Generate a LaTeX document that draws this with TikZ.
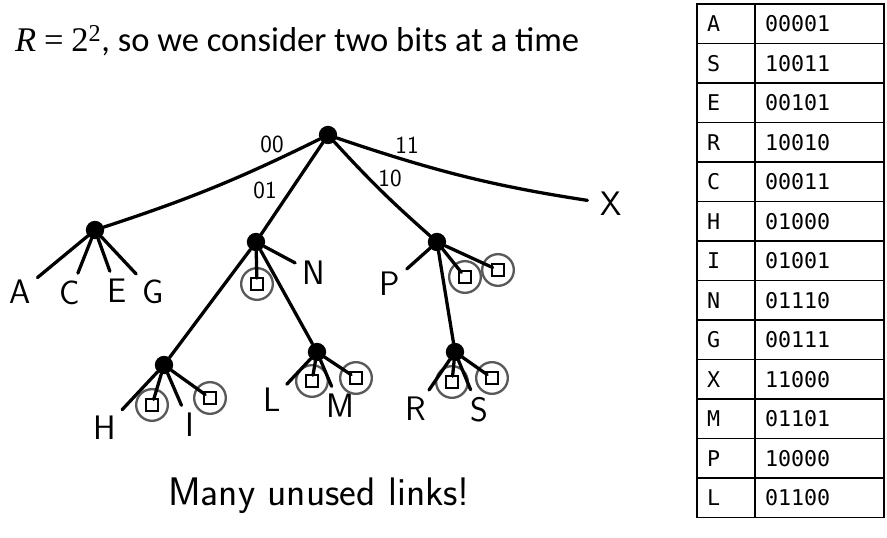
\documentclass[tikz,border=0pt]{standalone}
\usepackage{fontspec}
\setmainfont{Carlito}
\setmonofont{DejaVu Sans Mono}
\newfontfamily\eqfont{Liberation Serif}
\usetikzlibrary{positioning}

\tikzset{
  edge/.style={line width=2.8pt, line cap=round},
  leafedge/.style={edge, shorten >=6pt},
  dot/.style={circle, fill=black, inner sep=0pt, minimum size=0.55cm},
  leaf/.style={font=\sffamily\fontsize{29}{30}\selectfont, inner sep=1pt},
  bits/.style={font=\sffamily\fontsize{21}{22}\selectfont, inner sep=1pt},
  nil/.style={circle, draw=black!65, line width=2pt, minimum size=0.95cm, inner sep=0pt,
    path picture={\draw[black, line width=1.5pt]
      ([shift={(-0.19cm,-0.17cm)}]path picture bounding box.center) rectangle ++(0.38cm,0.34cm);}},
  keycell/.style={draw, line width=1pt, outer sep=0pt, anchor=north west,
    minimum height=1.185cm, text width=1.14cm, inner xsep=0.3cm, align=left,
    font=\ttfamily\fontsize{18.5}{20}\selectfont},
  bitcell/.style={keycell, text width=3.27cm},
}

\begin{document}
\begin{tikzpicture}[x=0.03cm, y=-0.03cm]
\useasboundingbox (0,0) rectangle (887,538);

% heading
\node[anchor=base west, inner sep=0pt, font=\fontsize{29.5}{34}\selectfont] (title) at (15,52)
  {{\eqfont\itshape R} {\eqfont =} {\eqfont 2\textsuperscript{2}}, so we consider two bits at a time};

% trie nodes
\node[dot] (root) at (328,135) {};
\node[dot] (n00) at (95,230) {};
\node[dot] (n01) at (256,242) {};
\node[dot] (n10) at (437,242) {};
\node[dot] (n010) at (164,365) {};
\node[dot] (n011) at (317,352) {};
\node[dot] (n100) at (455,352) {};

% keys
\node[leaf] (lA) at (20,292) {A};
\node[leaf] (lC) at (70,293) {C};
\node[leaf] (lE) at (117,291) {E};
\node[leaf] (lG) at (153,292) {G};
\node[leaf] (lN) at (314,273) {N};
\node[leaf] (lP) at (390,284) {P};
\node[leaf] (lX) at (611,204) {X};
\node[leaf] (lH) at (105,428) {H};
\node[leaf] (lI) at (190,425) {I};
\node[leaf] (lL) at (272,400) {L};
\node[leaf] (lM) at (340,406) {M};
\node[leaf] (lR) at (416,409) {R};
\node[leaf] (lS) at (479,410) {S};

% empty links
\node[nil] (z1) at (257,284) {};
\node[nil] (z2) at (465,277) {};
\node[nil] (z3) at (498,270) {};
\node[nil] (z4) at (152,405) {};
\node[nil] (z5) at (210,398) {};
\node[nil] (z6) at (312,381) {};
\node[nil] (z7) at (356,378) {};
\node[nil] (z8) at (452,382) {};
\node[nil] (z9) at (492,378) {};

% bit pairs
\node[bits] (b00) at (272,144) {00};
\node[bits] (b01) at (265,190) {01};
\node[bits] (b10) at (390,178) {10};
\node[bits] (b11) at (407,145) {11};

\draw[edge] (root) to[bend left=4] (n00);
\draw[edge] (root) -- (n01);
\draw[edge] (root) to[bend right=3] (n10);
\draw[edge, shorten >=10pt] (root) to[bend right=5] (lX);
\draw[edge] (n01) -- (n010);
\draw[edge] (n01) -- (n011);
\draw[edge] (n10) -- (n100);

\foreach \c in {A,C,E,G}
  \draw[leafedge] (n00) -- (l\c);
\draw[leafedge] (n01) -- (lN);
\draw[leafedge] (n10) -- (lP);
\draw[leafedge] (n010) -- (lH);
\draw[leafedge] (n010) -- (lI);
\draw[leafedge] (n011) -- (lL);
\draw[leafedge] (n011) -- (lM);
\draw[leafedge] (n100) -- (lR);
\draw[leafedge] (n100) -- (lS);

\draw[edge, shorten >=5pt] (n01) -- (z1.center);
\draw[edge, shorten >=5pt] (n10) -- (z2.center);
\draw[edge, shorten >=5pt] (n10) -- (z3.center);
\draw[edge, shorten >=5pt] (n010) -- (z4.center);
\draw[edge, shorten >=5pt] (n010) -- (z5.center);
\draw[edge, shorten >=5pt] (n011) -- (z6.center);
\draw[edge, shorten >=5pt] (n011) -- (z7.center);
\draw[edge, shorten >=5pt] (n100) -- (z8.center);
\draw[edge, shorten >=5pt] (n100) -- (z9.center);

\node[font=\sffamily\fontsize{34}{36}\selectfont] (note) at (319,496) {Many unused links!};

% key table
\foreach \k/\b [count=\i] in {A/00001,S/10011,E/00101,R/10010,C/00011,H/01000,I/01001,
    N/01110,G/00111,X/11000,M/01101,P/10000,L/01100}{
  \node[keycell] (key\i) at (697,{4+39.5*(\i-1)}) {\k};
  \node[bitcell] (bit\i) at (key\i.north east) {\b};
}
\end{tikzpicture}
\end{document}
